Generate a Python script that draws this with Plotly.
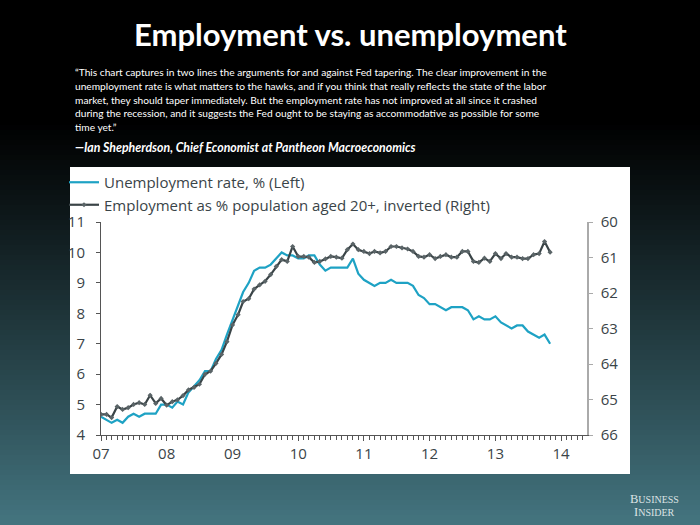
import plotly.graph_objects as go
import pandas as pd

# ---------------- data ----------------
months = pd.date_range("2007-01-01", "2013-11-01", freq="MS")

unemployment_rate = [
    4.6, 4.5, 4.4, 4.5, 4.4, 4.6, 4.7, 4.6, 4.7, 4.7, 4.7, 5.0,   # 2007
    5.0, 4.9, 5.1, 5.0, 5.4, 5.6, 5.8, 6.1, 6.1, 6.5, 6.8, 7.3,   # 2008
    7.8, 8.3, 8.7, 9.0, 9.4, 9.5, 9.5, 9.6, 9.8, 10.0, 9.9, 9.9,  # 2009
    9.8, 9.8, 9.9, 9.9, 9.6, 9.4, 9.5, 9.5, 9.5, 9.5, 9.8, 9.3,   # 2010
    9.1, 9.0, 8.9, 9.0, 9.0, 9.1, 9.0, 9.0, 9.0, 8.9, 8.6, 8.5,   # 2011
    8.3, 8.3, 8.2, 8.1, 8.2, 8.2, 8.2, 8.1, 7.8, 7.9, 7.8, 7.8,   # 2012
    7.9, 7.7, 7.6, 7.5, 7.6, 7.6, 7.4, 7.3, 7.2, 7.3, 7.0,        # 2013
]

employment_ratio = [
    65.42, 65.42, 65.51, 65.20, 65.28, 65.23, 65.14, 65.09, 65.14, 64.88, 65.11, 64.97,  # 2007
    65.16, 65.06, 65.01, 64.89, 64.73, 64.66, 64.57, 64.29, 64.20, 63.98, 63.73, 63.37,  # 2008
    62.90, 62.61, 62.24, 62.16, 61.89, 61.77, 61.67, 61.48, 61.25, 61.06, 61.11, 60.69,  # 2009
    60.97, 60.97, 60.99, 61.14, 61.11, 61.04, 60.97, 60.99, 61.02, 60.78, 60.62, 60.78,  # 2010
    60.83, 60.89, 60.83, 60.87, 60.83, 60.69, 60.69, 60.73, 60.76, 60.83, 60.97, 60.99,  # 2011
    60.92, 61.03, 60.97, 60.92, 60.99, 60.99, 60.83, 60.83, 61.11, 61.14, 61.02, 61.11,  # 2012
    60.89, 61.03, 60.89, 60.99, 60.99, 61.03, 61.03, 60.92, 60.89, 60.55, 60.85,         # 2013
]

series_names = ["Unemployment rate, % (Left)",
                "Employment as % population aged 20+, inverted (Right)"]
left_ticks = [4, 5, 6, 7, 8, 9, 10, 11]
right_ticks = [60, 61, 62, 63, 64, 65, 66]

title_text = "Employment vs. unemployment"
quote_lines = [
    "\u201cThis chart captures in two lines the arguments for and against Fed tapering. The clear improvement in the",
    "unemployment rate is what matters to the hawks, and if you think that really reflects the state of the labor",
    "market, they should taper immediately. But the employment rate has not improved at all since it crashed",
    "during the recession, and it suggests the Fed ought to be staying as accommodative as possible for some",
    "time yet.\u201d",
]
attribution = "\u2014Ian Shepherdson, Chief Economist at Pantheon Macroeconomics"

# ---------------- layout geometry ----------------
W, H = 700, 525
PL, PR, PT, PB = 101, 587, 222, 435


def px(x):
    return (x - PL) / (PR - PL)


def py(y):
    return (PB - y) / (PB - PT)


CYAN = "#1ea2c4"
DARK = "#3a4447"
TXT = "#3a4448"
FONT = "Open Sans"

fig = go.Figure()
fig.add_trace(go.Scatter(
    x=months, y=unemployment_rate, name=series_names[0], mode="lines",
    line=dict(color=CYAN, width=2.2), yaxis="y"))
fig.add_trace(go.Scatter(
    x=months, y=employment_ratio, name=series_names[1], mode="lines+markers",
    line=dict(color=DARK, width=2.2),
    marker=dict(symbol="diamond", size=4, color="#5a6467"),
    yaxis="y2"))

# ---------------- background gradient + white panel ----------------
shapes = []
top_c = (0, 0, 0)
bot_c = (68, 117, 128)
g0, g1 = 120, 525
step = 5
for y in range(0, H, step):
    t = min(max((y + step / 2 - g0) / (g1 - g0), 0), 1)
    t = t ** 1.1
    c = tuple(int(round(a + (b - a) * t)) for a, b in zip(top_c, bot_c))
    shapes.append(dict(type="rect", xref="paper", yref="paper", layer="below",
                       x0=px(0), x1=px(W), y0=py(y + step + 0.5), y1=py(y),
                       fillcolor="rgb(%d,%d,%d)" % c, line=dict(width=0)))
shapes.append(dict(type="rect", xref="paper", yref="paper", layer="below",
                   x0=px(70), x1=px(630), y0=py(474), y1=py(167),
                   fillcolor="white", line=dict(width=0)))

annotations = [
    dict(text="<b>" + title_text + "</b>", x=px(350), y=py(34), xref="paper", yref="paper",
         xanchor="center", yanchor="middle", showarrow=False,
         font=dict(family="Lato", size=31, color="white")),
]
for i, line in enumerate(quote_lines):
    annotations.append(dict(text=line, x=px(73), y=py(72 + i * 13.75), xref="paper", yref="paper",
                            xanchor="left", yanchor="middle", showarrow=False,
                            font=dict(family="Lato", size=10.2, color="white")))
annotations.append(dict(text="<b><i>" + attribution + "</i></b>", x=px(73), y=py(147),
                        xref="paper", yref="paper", xanchor="left", yanchor="middle",
                        showarrow=False, font=dict(family="Lato", size=12.3, color="white")))
annotations.append(dict(text="<span style='font-size:12.5px'>B</span>USINESS", x=px(654), y=py(499),
                        xref="paper", yref="paper", xanchor="center", yanchor="middle",
                        showarrow=False, font=dict(family="Liberation Serif", size=10, color="#dde3e5")))
annotations.append(dict(text="<span style='font-size:12.5px'>I</span>NSIDER", x=px(654), y=py(512),
                        xref="paper", yref="paper", xanchor="center", yanchor="middle",
                        showarrow=False, font=dict(family="Liberation Serif", size=10, color="#dde3e5")))

fig.update_layout(
    width=W, height=H, autosize=False,
    margin=dict(l=PL, r=W - PR, t=PT, b=H - PB, pad=0),
    paper_bgcolor="black", plot_bgcolor="rgba(0,0,0,0)",
    font=dict(family=FONT, color=TXT),
    shapes=shapes, annotations=annotations,
    showlegend=True,
    legend=dict(x=px(64), y=py(166), xanchor="left", yanchor="top",
                bgcolor="rgba(0,0,0,0)", font=dict(family=FONT, size=15, color=TXT),
                tracegroupgap=0, itemwidth=30),
    xaxis=dict(type="date", range=["2007-01-01", "2014-05-25"],
               tick0="2007-01-01", dtick="M12", tickformat="%y",
               ticks="outside", ticklen=5, tickcolor="#555", tickwidth=1,
               showline=True, linecolor="#555", linewidth=1,
               showgrid=False, zeroline=False,
               ticklabelstandoff=0,
               tickfont=dict(family=FONT, size=15, color=TXT),
               minor=dict(dtick="M1", ticks="outside", ticklen=4, tickcolor="#555",
                          tickwidth=1, showgrid=False)),
    yaxis=dict(range=[4, 11], tickvals=left_ticks, ticks="outside", ticklen=4,
               tickcolor="#555", showline=True, linecolor="#555", linewidth=1,
               showgrid=False, zeroline=False, ticklabelstandoff=8,
               tickfont=dict(family=FONT, size=15, color=TXT)),
    yaxis2=dict(range=[66, 60], tickvals=right_ticks, overlaying="y", side="right",
                ticks="outside", ticklen=4, tickcolor="#aaa", showline=True,
                linecolor="#aaa", linewidth=1.5, showgrid=False, zeroline=False,
                ticklabelstandoff=5,
                tickfont=dict(family=FONT, size=15, color=TXT)),
)

fig.write_html("out.html",
               config={"displayModeBar": False},
               post_script="document.body.style.margin='0';document.body.style.padding='0';")
